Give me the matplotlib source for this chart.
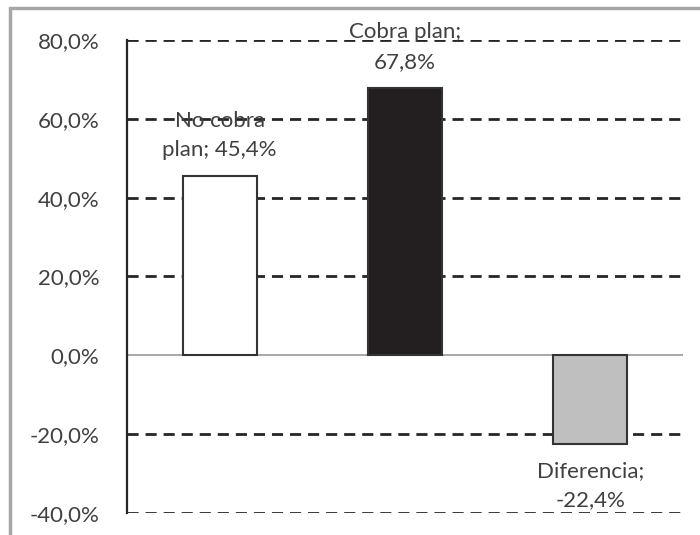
import numpy as np
import matplotlib.pyplot as plt
from matplotlib.patches import Rectangle
from matplotlib.ticker import FuncFormatter

categories = ['No cobra\nplan', 'Cobra plan', 'Diferencia']
values = [45.4, 67.8, -22.4]
labels = ['No cobra\nplan; 45,4%', 'Cobra plan;\n67,8%', 'Diferencia;\n-22,4%']
colors = ['#ffffff', '#231f20', '#bfbfbf']
yticks = [-40, -20, 0, 20, 40, 60, 80]

plt.rcParams['font.family'] = ['Lato', 'DejaVu Sans']
text_color = '#404040'

fig = plt.figure(figsize=(7, 5.35), dpi=100)
ax = fig.add_axes([127 / 700, 1 - 513 / 535, 556 / 700, 473 / 535])

# outer frame of the original picture (cropped on the right and bottom)
fig.patches.append(Rectangle((10 / 700, -0.1), 1.2, 1.1 - 8 / 535,
                             transform=fig.transFigure, fill=False,
                             edgecolor='#a6a6a6', lw=2.5, zorder=0))

x = np.arange(len(values))
ax.set_xlim(-0.5, len(values) - 0.5)
ax.set_ylim(-40, 80)

for yv in yticks:
    if yv != 0:
        ax.axhline(yv, color='#262626', lw=2, ls=(0, (4, 2.5)), zorder=1)
ax.axhline(0, color='#a0a0a0', lw=1.3, zorder=1)

bars = ax.bar(x, values, width=0.4, color=colors, edgecolor='#333333',
              linewidth=1.5, zorder=2)

for b, v, lab in zip(bars, values, labels):
    cx = b.get_x() + b.get_width() / 2
    if v >= 0:
        ax.annotate(lab, (cx, v), xytext=(0, 16), textcoords='offset pixels',
                    ha='center', va='bottom', fontsize=16, color=text_color,
                    linespacing=1.6, zorder=3)
    else:
        ax.annotate(lab, (cx, v), xytext=(0, -17), textcoords='offset pixels',
                    ha='center', va='top', fontsize=16, color=text_color,
                    linespacing=1.6, zorder=3)

ax.set_yticks(yticks)
ax.yaxis.set_major_formatter(FuncFormatter(lambda v, p: f'{v:.1f}%'.replace('.', ',')))
ax.tick_params(axis='y', length=0, pad=20, labelsize=16, labelcolor=text_color)
ax.set_xticks([])

for s in ['top', 'right', 'bottom']:
    ax.spines[s].set_visible(False)
ax.spines['left'].set_color('#262626')
ax.spines['left'].set_linewidth(1.6)

fig.savefig('out.png', dpi=100)
